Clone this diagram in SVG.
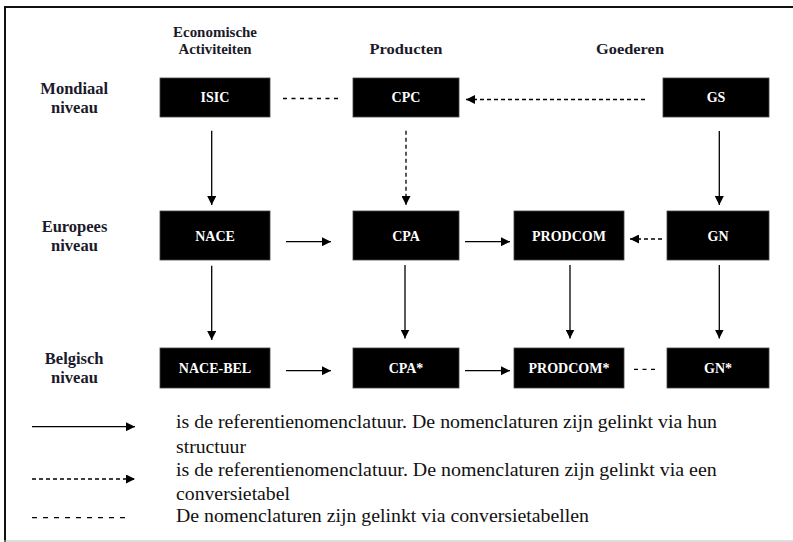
<svg xmlns="http://www.w3.org/2000/svg" width="793" height="542" viewBox="0 0 793 542">
<style>
.box{fill:#000;stroke:#444;stroke-width:0.8}
.bt{font-family:'Liberation Serif','DejaVu Serif',serif;font-weight:bold;font-size:14px;fill:#fff;text-anchor:middle}
.hd{font-family:'Liberation Serif','DejaVu Serif',serif;font-weight:bold;font-size:15px;fill:#1a1a2a;text-anchor:middle}
.rl{font-family:'Liberation Serif','DejaVu Serif',serif;font-weight:bold;font-size:16.5px;fill:#1a1a2a;text-anchor:middle}
.lg{font-family:'Liberation Serif','DejaVu Serif',serif;font-size:19px;fill:#111}
.s{stroke:#000;stroke-width:1.3;fill:none}
.d{stroke:#000;stroke-width:1.3;fill:none;stroke-dasharray:4 3}
.dl{stroke:#000;stroke-width:1.3;fill:none;stroke-dasharray:4 4.5}
</style>
<defs>
<marker id="ah" viewBox="0 0 10 10" refX="10" refY="5" markerWidth="9" markerHeight="9" markerUnits="userSpaceOnUse" orient="auto">
<path d="M0,0 L10,5 L0,10 Z" fill="#000"/>
</marker>
</defs>
<rect width="793" height="542" fill="#fff"/>
<g id="frame">
<line x1="4" y1="7" x2="793" y2="7" stroke="#111" stroke-width="2.2"/>
<line x1="5" y1="6" x2="5" y2="542" stroke="#111" stroke-width="2"/>
<line x1="4" y1="541" x2="793" y2="541" stroke="#bbb" stroke-width="1.2"/>
</g>
<g id="headers">
<text class="hd" x="215" y="37" textLength="84" lengthAdjust="spacingAndGlyphs">Economische</text>
<text class="hd" x="215" y="53.5" textLength="73" lengthAdjust="spacingAndGlyphs">Activiteiten</text>
<text class="hd" x="406" y="54" textLength="73" lengthAdjust="spacingAndGlyphs">Producten</text>
<text class="hd" x="630" y="54" textLength="68" lengthAdjust="spacingAndGlyphs">Goederen</text>
<text class="rl" x="74.3" y="94">Mondiaal</text>
<text class="rl" x="74.5" y="112.7">niveau</text>
<text class="rl" x="74.5" y="231.7">Europees</text>
<text class="rl" x="74.5" y="250.7">niveau</text>
<text class="rl" x="74.2" y="364">Belgisch</text>
<text class="rl" x="74.5" y="382.7">niveau</text>
</g>
<g id="ISIC"><rect class="box" x="160" y="78" width="110" height="39"/><text class="bt" x="215" y="102">ISIC</text></g>
<g id="CPC"><rect class="box" x="353" y="78" width="106" height="39"/><text class="bt" x="406" y="102">CPC</text></g>
<g id="GS"><rect class="box" x="663" y="78" width="106" height="39"/><text class="bt" x="716" y="102">GS</text></g>
<g id="NACE"><rect class="box" x="160" y="211" width="110" height="49"/><text class="bt" x="215" y="240.7">NACE</text></g>
<g id="CPA"><rect class="box" x="353" y="211" width="106" height="49"/><text class="bt" x="406" y="240.7">CPA</text></g>
<g id="PRODCOM"><rect class="box" x="514" y="211" width="110" height="49"/><text class="bt" x="569" y="240.7">PRODCOM</text></g>
<g id="GN"><rect class="box" x="667" y="211" width="102" height="49"/><text class="bt" x="718" y="240.7">GN</text></g>
<g id="NACE-BEL"><rect class="box" x="160" y="348" width="110" height="40"/><text class="bt" x="215" y="373.3">NACE-BEL</text></g>
<g id="CPA-star"><rect class="box" x="353" y="348" width="106" height="40"/><text class="bt" x="406" y="373.3">CPA*</text></g>
<g id="PRODCOM-star"><rect class="box" x="514" y="348" width="110" height="40"/><text class="bt" x="569" y="373.3">PRODCOM*</text></g>
<g id="GN-star"><rect class="box" x="667" y="348" width="102" height="40"/><text class="bt" x="718" y="373.3">GN*</text></g>
<g id="connectors">
<line class="dl" x1="283" y1="98.5" x2="341" y2="98.5"/>
<line class="d" x1="645" y1="99.5" x2="466" y2="99.5" marker-end="url(#ah)"/>
<line class="s" x1="211.7" y1="130.7" x2="211.7" y2="205" marker-end="url(#ah)"/>
<line class="d" x1="406" y1="130.7" x2="406" y2="205" marker-end="url(#ah)"/>
<line class="s" x1="719.3" y1="131" x2="719.3" y2="205" marker-end="url(#ah)"/>
<line class="s" x1="286" y1="241.7" x2="331" y2="241.7" marker-end="url(#ah)"/>
<line class="s" x1="465" y1="241.7" x2="510" y2="241.7" marker-end="url(#ah)"/>
<line class="d" x1="662" y1="239" x2="630" y2="239" marker-end="url(#ah)"/>
<line class="s" x1="211.7" y1="265.7" x2="211.7" y2="340" marker-end="url(#ah)"/>
<line class="s" x1="405" y1="265" x2="405" y2="338.5" marker-end="url(#ah)"/>
<line class="s" x1="570" y1="265" x2="570" y2="338.5" marker-end="url(#ah)"/>
<line class="s" x1="719.3" y1="265" x2="719.3" y2="338.5" marker-end="url(#ah)"/>
<line class="s" x1="286" y1="370.7" x2="331" y2="370.7" marker-end="url(#ah)"/>
<line class="s" x1="465" y1="370.7" x2="510" y2="370.7" marker-end="url(#ah)"/>
<line class="dl" x1="634" y1="369.3" x2="657" y2="369.3"/>
</g>
<g id="legend">
<line class="s" x1="32" y1="426.7" x2="135" y2="426.7" marker-end="url(#ah)"/>
<line class="d" x1="32" y1="479" x2="135" y2="479" stroke-dasharray="4.5 3.8" marker-end="url(#ah)"/>
<line class="s" x1="32" y1="517.7" x2="130" y2="517.7" stroke-dasharray="5 6"/>
<text class="lg" x="176" y="428" textLength="541" lengthAdjust="spacingAndGlyphs">is de referentienomenclatuur. De nomenclaturen zijn gelinkt via hun</text>
<text class="lg" x="176" y="452.7" textLength="70" lengthAdjust="spacingAndGlyphs">structuur</text>
<text class="lg" x="176" y="476" textLength="540.7" lengthAdjust="spacingAndGlyphs">is de referentienomenclatuur. De nomenclaturen zijn gelinkt via een</text>
<text class="lg" x="176" y="500" textLength="114" lengthAdjust="spacingAndGlyphs">conversietabel</text>
<text class="lg" x="176" y="521.7" textLength="413" lengthAdjust="spacingAndGlyphs">De nomenclaturen zijn gelinkt via conversietabellen</text>
</g>
</svg>
